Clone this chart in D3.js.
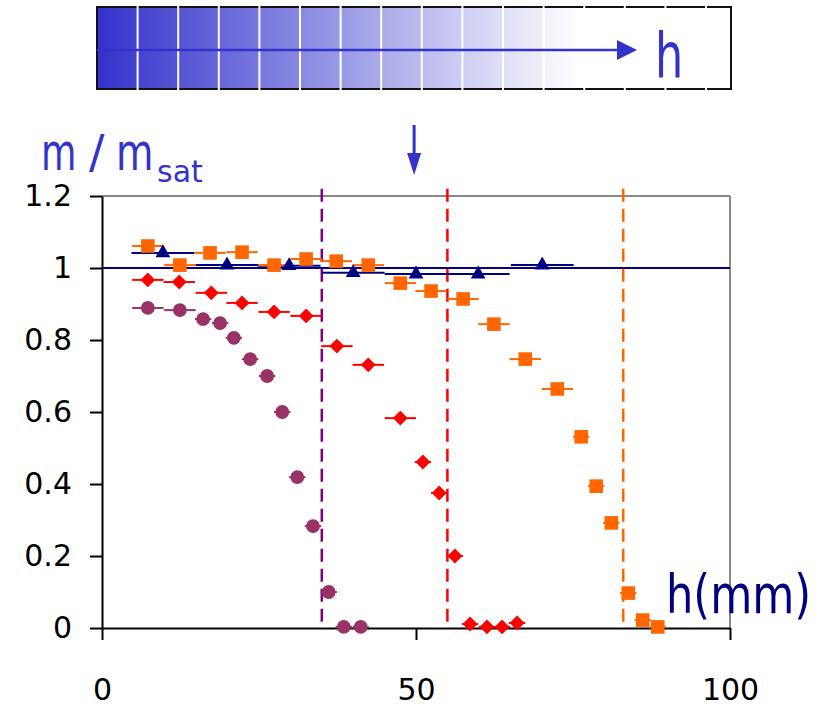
<!DOCTYPE html>
<html>
<head>
<meta charset="utf-8">
<script src="https://cdn.jsdelivr.net/npm/d3@7"></script>
<style>
  html, body { margin: 0; padding: 0; background: #fff; }
  svg { display: block; font-family: 'DejaVu Sans', sans-serif; }
</style>
</head>
<body>
<div class="chart"></div>
<script>
const xTicks = [0, 50, 100]
const yTicks = [0, 0.2, 0.4, 0.6, 0.8, 1, 1.2]

// orange squares
const orangeX = [7.3, 12.4, 17.2, 22.3, 27.4, 32.5, 37.3, 42.4, 47.5, 52.4, 57.5, 62.4, 67.4, 72.5, 76.3, 78.7, 81.1, 83.8, 86.1, 88.5]
const orangeY = [1.061, 1.008, 1.042, 1.044, 1.008, 1.025, 1.019, 1.008, 0.958, 0.936, 0.914, 0.844, 0.747, 0.664, 0.531, 0.394, 0.292, 0.097, 0.022, 0.003]
const orangeErr = [2.5, 2.5, 2.5, 2.5, 2.5, 2.5, 2.5, 2.5, 2.5, 2.5, 2.5, 2.5, 2.5, 2.5, 1.3, 1.3, 1.3, 1.3, 1.3, 1.3]

// red diamonds
const redX = [7.3, 12.3, 17.4, 22.3, 27.4, 32.5, 37.4, 42.4, 47.5, 51.1, 53.7, 56.2, 58.6, 61.3, 63.7, 66.1]
const redY = [0.967, 0.961, 0.931, 0.903, 0.878, 0.867, 0.783, 0.731, 0.583, 0.461, 0.375, 0.2, 0.011, 0.003, 0.003, 0.014]
const redErr = [2.5, 2.5, 2.5, 2.5, 2.5, 2.5, 2.5, 2.5, 2.5, 1.3, 1.3, 1.3, 1.3, 1.3, 1.3, 1.3]

// purple circles
const purpleX = [7.3, 12.4, 16.1, 18.8, 21.0, 23.6, 26.3, 28.7, 31.1, 33.6, 36.1, 38.5, 41.2]
const purpleY = [0.889, 0.883, 0.858, 0.847, 0.806, 0.747, 0.7, 0.6, 0.419, 0.283, 0.1, 0.003, 0.003]
const purpleErr = [2.5, 2.5, 1.3, 1.3, 1.3, 1.3, 1.3, 1.3, 1.3, 1.3, 1.3, 1.3, 1.3]

// navy triangles
const navyX = [9.7, 19.9, 29.8, 40.0, 50.0, 59.9, 70.1]
const navyY = [1.042, 1.008, 1.006, 0.987, 0.983, 0.983, 1.008]
const navyErr = [5, 5, 5, 5, 5, 5, 5]

const limitX = [35, 55, 83]
const limitColors = ['#800080', '#ff0000', '#ff6600']

const width = 830
const height = 709

const x = d3.scaleLinear().domain([0, 100]).range([102, 730])
const y = d3.scaleLinear().domain([0, 1.2]).range([628, 196])

const svg = d3
  .select('.chart')
  .append('svg')
  .attr('width', width)
  .attr('height', height)

// --- gradient bar on top
const defs = svg.append('defs')
const grad = defs
  .append('linearGradient')
  .attr('id', 'fade')
  .attr('x1', '0%')
  .attr('x2', '100%')
grad.append('stop').attr('offset', '0%').attr('stop-color', '#3232cc')
grad.append('stop').attr('offset', '76%').attr('stop-color', '#ffffff')
grad.append('stop').attr('offset', '100%').attr('stop-color', '#ffffff')

const barLeft = 97
const barRight = 731
const cellW = 40.6
svg
  .append('rect')
  .attr('x', barLeft)
  .attr('y', 7)
  .attr('width', barRight - barLeft)
  .attr('height', 82)
  .attr('fill', 'url(#fade)')
  .attr('stroke', '#111')
  .attr('stroke-width', 2)

svg
  .selectAll('.sep')
  .data(d3.range(1, 16))
  .enter()
  .append('line')
  .attr('x1', (d) => barLeft + d * cellW)
  .attr('x2', (d) => barLeft + d * cellW)
  .attr('y1', 5)
  .attr('y2', 91)
  .attr('stroke', '#fff')
  .attr('stroke-width', 2)

svg
  .append('line')
  .attr('x1', barLeft)
  .attr('x2', 620)
  .attr('y1', 50)
  .attr('y2', 50)
  .attr('stroke', '#3333cc')
  .attr('stroke-width', 2.5)
svg
  .append('path')
  .attr('d', 'M617,40 L637,50 L617,60 Z')
  .attr('fill', '#3333cc')

// squeezed text helper (keeps the real box narrow)
function label(parent, tx, ty, size, sx, txt, color) {
  return parent
    .append('text')
    .attr('transform', `translate(${tx},${ty}) scale(${sx},1)`)
    .attr('font-size', size)
    .attr('fill', color)
    .text(txt)
}

label(svg, 655, 77, 62, 0.72, 'h', '#3333cc')

// down arrow
svg
  .append('line')
  .attr('x1', x(49.7))
  .attr('x2', x(49.7))
  .attr('y1', 125)
  .attr('y2', 156)
  .attr('stroke', '#3333cc')
  .attr('stroke-width', 3)
svg
  .append('path')
  .attr('d', `M${x(49.7) - 7},153 L${x(49.7) + 7},153 L${x(49.7)},175 Z`)
  .attr('fill', '#3333cc')

// --- frame
svg
  .append('line')
  .attr('x1', x(0))
  .attr('x2', x(100))
  .attr('y1', y(1.2))
  .attr('y2', y(1.2))
  .attr('stroke', '#888')
  .attr('stroke-width', 2)
svg
  .append('line')
  .attr('x1', x(100))
  .attr('x2', x(100))
  .attr('y1', y(1.2))
  .attr('y2', y(0))
  .attr('stroke', '#888')
  .attr('stroke-width', 2)

const xAxis = d3
  .axisBottom(x)
  .tickValues(xTicks)
  .tickSize(12)
  .tickSizeOuter(0)
  .tickPadding(39)
  .tickFormat((d) => d)
const yAxis = d3
  .axisLeft(y)
  .tickValues(yTicks)
  .tickSize(12)
  .tickSizeOuter(0)
  .tickPadding(18)
  .tickFormat((d) => d)

for (const g of [
  svg.append('g').attr('transform', `translate(0,${y(0)})`).call(xAxis),
  svg.append('g').attr('transform', `translate(${x(0)},0)`).call(yAxis)
]) {
  g.selectAll('path, line').attr('stroke', '#000').attr('stroke-width', 2)
  g.selectAll('text')
    .attr('fill', '#000')
    .style('font-size', '30px')
    .style('font-family', "'DejaVu Sans', sans-serif")
}

// --- reference line at 1
svg
  .append('line')
  .attr('x1', x(0))
  .attr('x2', x(100))
  .attr('y1', y(1))
  .attr('y2', y(1))
  .attr('stroke', '#000080')
  .attr('stroke-width', 2)

// --- dashed limits
svg
  .selectAll('.limit')
  .data(limitX)
  .enter()
  .append('line')
  .attr('x1', (d) => x(d))
  .attr('x2', (d) => x(d))
  .attr('y1', y(1.22))
  .attr('y2', y(0))
  .attr('stroke', (d, i) => limitColors[i])
  .attr('stroke-width', 2.5)
  .attr('stroke-dasharray', '13,7')

// --- series
const series = [
  { xs: navyX, ys: navyY, err: navyErr, color: '#000080', symbol: d3.symbolTriangle, size: 95, rotate: 0 },
  { xs: orangeX, ys: orangeY, err: orangeErr, color: '#ff6600', symbol: d3.symbolSquare, size: 185, rotate: 0 },
  { xs: redX, ys: redY, err: redErr, color: '#ff0000', symbol: d3.symbolSquare, size: 110, rotate: 45 },
  { xs: purpleX, ys: purpleY, err: purpleErr, color: '#993366', symbol: d3.symbolCircle, size: 150, rotate: 0 }
]

for (const s of series) {
  const pts = s.xs.map((v, i) => ({ x: v, y: s.ys[i], e: s.err[i] }))
  svg
    .append('g')
    .selectAll('line')
    .data(pts)
    .enter()
    .append('line')
    .attr('x1', (d) => x(d.x - d.e))
    .attr('x2', (d) => x(d.x + d.e))
    .attr('y1', (d) => y(d.y))
    .attr('y2', (d) => y(d.y))
    .attr('stroke', s.color)
    .attr('stroke-width', 2)
}

for (const s of series) {
  const pts = s.xs.map((v, i) => ({ x: v, y: s.ys[i] }))
  svg
    .append('g')
    .selectAll('path')
    .data(pts)
    .enter()
    .append('path')
    .attr('d', d3.symbol().type(s.symbol).size(s.size))
    .attr('transform', (d) => `translate(${x(d.x)},${y(d.y)}) rotate(${s.rotate})`)
    .attr('fill', s.color)
}

// --- axis titles
const titleM = svg.append('g')
label(titleM, 41, 170, 52, 0.7, 'm', '#3333cc')
label(titleM, 89, 168, 46, 1, '/', '#3333cc')
label(titleM, 116, 170, 52, 0.74, 'm', '#3333cc')
label(titleM, 157, 182, 30, 1, 'sat', '#3333cc')

label(svg, 666, 613, 54, 0.8, 'h(mm)', '#000080')
</script>
</body>
</html>
